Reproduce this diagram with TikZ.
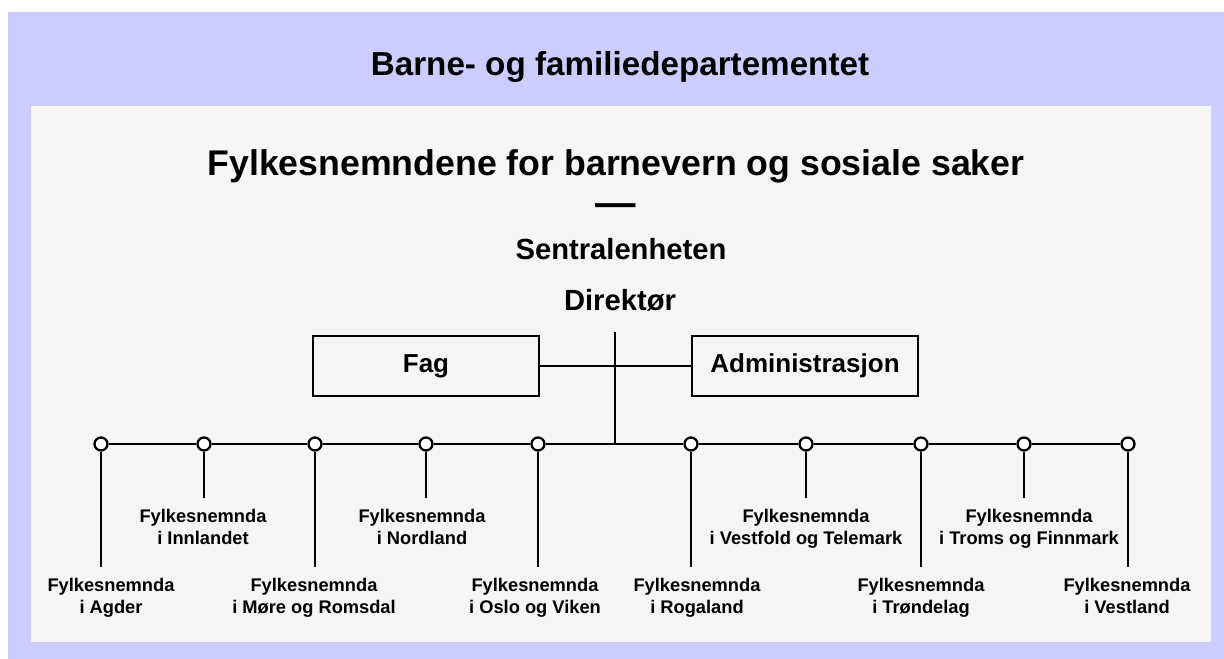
\documentclass[tikz,border=0pt]{standalone}
\usepackage{fontspec}
\setmainfont{Liberation Sans}
\usepackage{tikz}

\definecolor{deptblue}{HTML}{CCCCFF}
\definecolor{panelgrey}{HTML}{F5F5F5}

\tikzset{
  orgbox/.style={draw,line width=1.2pt,minimum width=45.3mm,minimum height=12.1mm,inner sep=0,
    font=\fontsize{14.8}{17}\selectfont\bfseries},
  busdot/.style={circle,draw,fill=white,line width=1.3pt,minimum size=2.6mm,inner sep=0},
  unit/.style={align=center,anchor=base,inner sep=0,font=\fontsize{10.4}{12.3}\selectfont\bfseries},
  link/.style={line width=1.3pt}
}

\begin{document}
\begin{tikzpicture}[x=0.2mm,y=-0.2mm]
\useasboundingbox (0,0) rectangle (1224,659);
\fill [deptblue] (8,12) rectangle (1224,659);
\fill [panelgrey] (31,106) rectangle (1211,642);

\node [anchor=base,inner sep=0,font=\fontsize{18.9}{22}\selectfont\bfseries] (dept) at (620,75) {Barne- og familiedepartementet};
\node [anchor=base,inner sep=0,font=\fontsize{20.3}{24}\selectfont\bfseries] (fn) at (616,175) {Fylkesnemndene for barnevern og sosiale saker};
\node [inner sep=0,font=\fontsize{23}{26}\selectfont\bfseries] (dash) at (616,210) {—};
\node [anchor=base,inner sep=0,font=\fontsize{16.6}{20}\selectfont\bfseries] (sentral) at (621,259) {Sentralenheten};
\node [anchor=base,inner sep=0,font=\fontsize{16.6}{20}\selectfont\bfseries] (dir) at (620,310) {Direktør};

\node [orgbox] (fag) at (426,366) {Fag};
\node [orgbox] (adm) at (805,366) {Administrasjon};

\coordinate (stem) at (615,332);
\coordinate (hub) at (615,444);

\node [busdot] (agder) at (101,444) {};
\node [busdot] (innl) at (204,444) {};
\node [busdot] (more) at (315,444) {};
\node [busdot] (nordl) at (426,444) {};
\node [busdot] (oslo) at (538,444) {};
\node [busdot] (rogal) at (691,444) {};
\node [busdot] (vestf) at (806,444) {};
\node [busdot] (trond) at (921,444) {};
\node [busdot] (troms) at (1024,444) {};
\node [busdot] (vestl) at (1128,444) {};

\coordinate (agder e) at (101,567);
\coordinate (innl e) at (204,498);
\coordinate (more e) at (315,567);
\coordinate (nordl e) at (426,498);
\coordinate (oslo e) at (538,567);
\coordinate (rogal e) at (691,567);
\coordinate (vestf e) at (806,498);
\coordinate (trond e) at (921,567);
\coordinate (troms e) at (1024,498);
\coordinate (vestl e) at (1128,567);

\node [unit] (agder t) at (111,613) {Fylkesnemnda\\i Agder};
\node [unit] (innl t) at (203,544) {Fylkesnemnda\\i Innlandet};
\node [unit] (more t) at (314,613) {Fylkesnemnda\\i Møre og Romsdal};
\node [unit] (nordl t) at (422,544) {Fylkesnemnda\\i Nordland};
\node [unit] (oslo t) at (535,613) {Fylkesnemnda\\i Oslo og Viken};
\node [unit] (rogal t) at (697,613) {Fylkesnemnda\\i Rogaland};
\node [unit] (vestf t) at (806,544) {Fylkesnemnda\\i Vestfold og Telemark};
\node [unit] (trond t) at (921,613) {Fylkesnemnda\\i Trøndelag};
\node [unit] (troms t) at (1029,544) {Fylkesnemnda\\i Troms og Finnmark};
\node [unit] (vestl t) at (1127,613) {Fylkesnemnda\\i Vestland};

\draw [link] (stem) -- (hub);
\draw [link] (fag) -- (adm);
\draw [link] (agder) -- (innl) -- (more) -- (nordl) -- (oslo) -- (rogal) -- (vestf) -- (trond) -- (troms) -- (vestl);
\draw [link] (agder) -- (agder e);
\draw [link] (innl) -- (innl e);
\draw [link] (more) -- (more e);
\draw [link] (nordl) -- (nordl e);
\draw [link] (oslo) -- (oslo e);
\draw [link] (rogal) -- (rogal e);
\draw [link] (vestf) -- (vestf e);
\draw [link] (trond) -- (trond e);
\draw [link] (troms) -- (troms e);
\draw [link] (vestl) -- (vestl e);
\end{tikzpicture}
\end{document}
